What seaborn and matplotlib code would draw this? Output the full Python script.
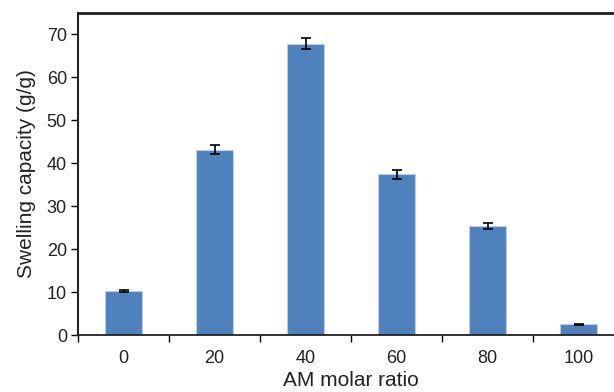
import matplotlib
matplotlib.use("Agg")
import matplotlib.pyplot as plt
import seaborn as sns
import pandas as pd
import numpy as np

categories = ["0", "20", "40", "60", "80", "100"]
swelling = [10.2, 43.2, 67.8, 37.4, 25.4, 2.5]
errors = [0.3, 1.0, 1.3, 1.1, 0.7, 0.15]

sns.set_style("white")
plt.rcParams['font.family'] = ['Liberation Sans', 'DejaVu Sans']

df = pd.DataFrame({"ratio": categories, "swelling": swelling})

fig = plt.figure(figsize=(6.14, 3.92), dpi=100)
ax = fig.add_axes([78/614, 57/392, 546/614, 322/392])

sns.barplot(data=df, x="ratio", y="swelling", color="#4F81BD", saturation=1,
            width=0.4, edgecolor="#B9CDE5", linewidth=0.8, ax=ax, errorbar=None)
ax.errorbar(np.arange(len(categories)), swelling, yerr=errors, fmt="none",
            ecolor="black", elinewidth=1.2, capsize=3.5, capthick=1.2)

ax.set_xlim(-0.5, 5.5)
ax.set_ylim(0, 75)
ax.set_yticks(range(0, 71, 10))
ax.set_xticks(np.arange(-0.5, 5.6, 1), minor=True)
ax.tick_params(axis="x", which="major", length=0, labelsize=13, pad=11, colors="#222222")
ax.tick_params(axis="x", which="minor", length=5, width=1, color="black", direction="out", bottom=True)
ax.tick_params(axis="y", which="major", length=5, width=1, color="black", direction="out", left=True,
               labelsize=13, pad=3, labelcolor="#222222")

for side in ["top", "left", "right", "bottom"]:
    ax.spines[side].set_visible(True)
    ax.spines[side].set_color("#222222")
ax.spines["top"].set_linewidth(2)
ax.spines["left"].set_linewidth(1.5)
ax.spines["bottom"].set_linewidth(1.3)
ax.spines["right"].set_linewidth(1.5)

ax.set_xlabel("AM molar ratio", fontsize=15, color="#222222", labelpad=3)
ax.set_ylabel("Swelling capacity (g/g)", fontsize=15, color="#222222", labelpad=8)

fig.savefig("out.png", dpi=100)
